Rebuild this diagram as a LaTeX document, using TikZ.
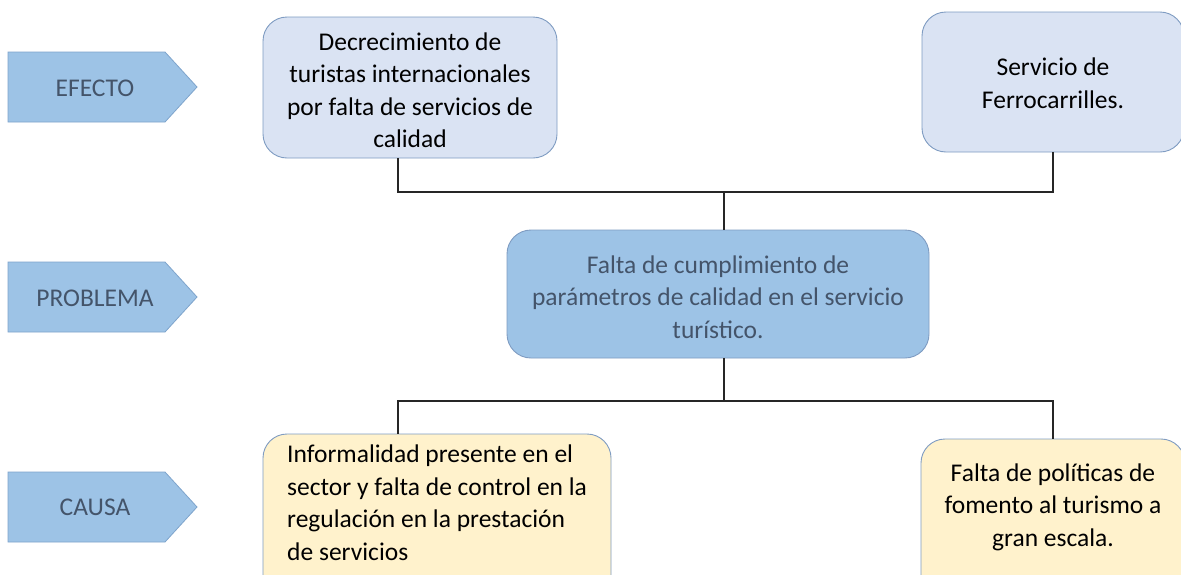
\documentclass[tikz,border=0pt]{standalone}
\usepackage{fontspec}
\setmainfont{Carlito}
\begin{document}
\begin{tikzpicture}[x=1pt,y=-1pt,
  labelarrow/.style={draw=arrowborder, fill=arrowfill, line width=0.8pt},
  labeltext/.style={text=labelgray, font=\fontsize{25.5}{30}\selectfont},
  effectbox/.style={draw=boxborder, fill=effectfill, line width=0.9pt, rounded corners=24pt},
  problembox/.style={draw=boxborder, fill=problemfill, line width=0.9pt, rounded corners=24pt},
  causebox/.style={draw=boxborder, fill=causefill, line width=0.9pt, rounded corners=24pt},
  boxtext/.style={font=\fontsize{25.5}{32.5}\selectfont, align=center, inner sep=0pt},
  conn/.style={draw=black!85, line width=1.3pt}]
\definecolor{arrowfill}{HTML}{9DC3E6}
\definecolor{arrowborder}{HTML}{7EA4CC}
\definecolor{labelgray}{HTML}{44546A}
\definecolor{effectfill}{HTML}{DAE3F3}
\definecolor{problemfill}{HTML}{9DC3E6}
\definecolor{causefill}{HTML}{FFF2CC}
\definecolor{boxborder}{HTML}{7F9CC2}
\useasboundingbox (0,0) rectangle (1181,574);
\clip (0,0) rectangle (1181,574);
\fill[white] (0,0) rectangle (1181,574);
% left labels
\draw[labelarrow] (8,52) -- (165,52) -- (197,87) -- (165,122) -- (8,122) -- cycle;
\node[labeltext] (efecto) at (95,88) {EFECTO};
\draw[labelarrow] (8,262) -- (165,262) -- (197,297) -- (165,332) -- (8,332) -- cycle;
\node[labeltext] (problema) at (95,298) {PROBLEMA};
\draw[labelarrow] (8,472) -- (165,472) -- (197,507) -- (165,542) -- (8,542) -- cycle;
\node[labeltext] (causa) at (95,507) {CAUSA};
% effect boxes
\node[effectbox, minimum width=294pt, minimum height=141pt] (tl) at (410,87.5) {};
\node[boxtext] (tlt) at (410,90) {Decrecimiento de\\turistas internacionales\\por falta de servicios de\\calidad};
\node[effectbox, minimum width=262pt, minimum height=140pt] (tr) at (1053,82) {};
\node[boxtext] (trt) at (1053,83) {Servicio de\\Ferrocarrilles.};
% problem box
\node[problembox, minimum width=422pt, minimum height=128pt] (mid) at (718,294) {};
\node[boxtext, text=labelgray] (midt) at (718,297) {Falta de cumplimiento de\\parámetros de calidad en el servicio\\turístico.};
% cause boxes
\node[causebox, minimum width=348pt, minimum height=170pt] (bl) at (437,519) {};
\node[boxtext, align=left, anchor=north west] (blt) at (287,445) {Informalidad presente en el\\sector y falta de control en la\\regulación en la prestación\\de servicios};
\node[causebox, minimum width=264pt, minimum height=160pt] (br) at (1053,519) {};
\node[boxtext] (brt) at (1053,507) {Falta de políticas de\\fomento al turismo a\\gran escala.};
% connectors
\coordinate (jt) at (724,192);
\coordinate (jb) at (724,401);
\draw[conn] ([xshift=-12pt]tl.south) |- (jt) -| (tr.south);
\draw[conn] (jt) -- (jt |- mid.north);
\draw[conn] (jb |- mid.south) -- (jb);
\draw[conn] ([xshift=-39pt]bl.north) |- (jb) -| (br.north);
\end{tikzpicture}
\end{document}
